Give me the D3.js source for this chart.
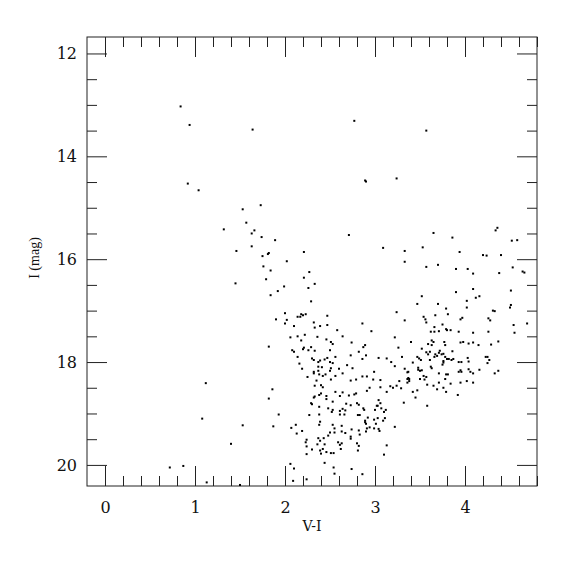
<!DOCTYPE html>
<html>
<head>
<meta charset="utf-8">
<script src="https://cdn.jsdelivr.net/npm/d3@7"></script>
<style>
  body { margin: 0; background: #fff; }
  svg { display: block; }
  text { font-family: "DejaVu Serif", "Liberation Serif", serif; fill: #111; }
</style>
</head>
<body>
<div id="chart"></div>
<script>
// colour index V-I and magnitude I
const vi = [
  0.84,0.94,1.64,2.77,3.57,
  0.92,1.04,1.73,1.53,1.57,1.32,1.66,1.63,1.74,1.89,1.63,1.46,1.82,1.81,1.75,2.21,2.02,1.76,1.84,2.27,2.21,1.79,1.45,1.99,2.26,1.92,1.84,
  2.89,2.90,3.24,2.71,3.09,3.33,3.33,3.65,3.86,3.53,3.94,4.34,4.36,4.52,4.58,4.20,4.24,4.40,3.57,3.70,3.90,4.03,4.09,4.38,4.53,4.64,4.66,
  2.33,2.29,3.52,3.47,3.70,3.79,3.90,4.02,4.02,4.09,4.12,4.16,4.51,4.51,4.50,
  2.00,1.90,2.02,2.00,2.18,2.20,2.23,2.14,2.17,2.10,2.06,2.14,2.22,2.18,1.82,2.21,2.20,2.26,2.08,2.10,2.14,2.16,2.19,2.25,
  1.12,1.86,1.82,1.93,2.27,1.08,1.53,1.87,2.07,2.12,2.19,2.13,2.24,2.23,2.24,1.40,2.24,2.06,2.10,0.72,0.87,1.13,1.50,2.09,2.24,
  2.47,2.32,2.33,2.39,2.47,3.24,3.33,2.86,2.96,2.58,2.36,2.64,2.46,2.51,2.53,2.74,3.22,3.26,2.29,2.89,2.87,2.50,2.82,2.33,
  2.32,2.30,2.39,2.37,2.44,2.47,2.56,2.73,2.86,2.90,3.04,3.13,3.18,3.22,2.50,2.53,2.37,2.41,2.51,2.50,2.60,2.69,2.75,
  2.32,2.32,2.37,2.38,2.42,2.45,2.64,2.56,2.35,2.51,2.73,2.79,2.86,2.91,2.99,2.98,3.06,3.06,2.94,2.91,3.13,3.17,3.20,3.24,3.27,
  3.33,3.36,3.37,3.29,2.33,2.40,2.42,2.56,2.64,2.71,2.77,2.61,2.46,2.40,2.38,2.32,2.33,
  2.79,2.29,2.30,2.46,2.53,2.68,2.80,2.82,2.87,2.88,3.04,3.06,3.03,3.02,3.07,3.12,3.10,3.00,3.32,2.38,2.48,2.53,2.52,2.61,2.64,
  2.66,2.61,2.73,2.67,2.81,2.83,2.92,2.89,2.89,2.90,2.99,3.01,3.03,3.09,3.11,2.91,2.94,2.99,3.04,3.05,3.22,2.82,2.74,2.67,2.63,
  2.63,2.53,2.55,2.55,2.39,2.38,2.38,2.30,2.37,2.39,2.43,2.36,2.39,2.42,2.40,2.46,2.51,2.54,2.44,2.50,2.48,2.59,2.61,2.62,2.63,
  2.73,2.73,2.80,2.82,2.81,2.83,2.90,3.13,3.10,2.44,2.54,2.55,2.74,2.86,
  4.31,4.33,3.54,3.56,3.57,3.67,3.81,3.75,3.66,3.95,3.97,4.26,4.28,4.54,4.55,4.69,3.62,3.66,3.71,3.79,3.80,3.84,3.93,4.09,4.26,
  3.40,3.63,3.65,3.59,3.63,3.77,3.78,3.95,3.98,4.04,4.09,4.15,4.29,4.37,3.52,3.72,3.71,3.67,3.69,3.74,3.76,3.78,3.80,3.76,3.82,
  3.85,3.87,3.86,3.57,3.61,3.59,3.47,3.49,3.51,3.42,3.30,3.61,3.66,3.93,3.96,4.03,4.04,4.23,4.25,4.27,4.25,3.36,3.37,3.48,3.50,
  3.48,3.52,3.62,3.63,3.75,3.76,3.71,3.79,3.81,3.95,3.96,3.93,4.04,4.06,4.09,4.16,4.33,4.37,3.38,3.38,3.36,3.50,3.55,3.54,3.57,
  3.42,3.47,3.45,3.65,3.71,3.76,3.79,3.84,3.92,3.95,4.02,4.09,3.78,3.58,3.69,3.58
];
const imag = [
  13.03,13.39,13.48,13.31,13.50,
  14.53,14.66,14.95,15.03,15.29,15.42,15.44,15.50,15.57,15.63,15.75,15.84,15.88,15.90,15.94,15.86,16.04,16.14,16.22,16.25,16.36,16.39,16.47,16.53,16.56,16.62,16.70,
  14.47,14.49,14.43,15.53,15.78,15.84,16.05,15.49,15.58,15.77,15.86,15.44,15.39,15.64,15.63,15.92,15.93,15.92,16.15,16.11,16.19,16.19,16.28,16.27,16.16,16.24,16.26,
  16.48,16.82,16.72,16.87,16.87,16.96,16.64,16.81,16.94,16.58,16.75,16.72,16.61,16.89,16.94,
  17.05,17.17,17.18,17.25,17.07,17.09,17.07,17.12,17.12,17.30,17.52,17.50,17.47,17.58,17.70,17.72,17.75,17.77,17.77,17.80,17.90,18.03,18.13,18.29,
  18.41,18.53,18.71,19.02,19.03,19.10,19.23,19.25,19.28,19.22,19.34,19.39,19.51,19.56,19.64,19.59,19.79,19.98,20.07,20.05,20.02,20.34,20.39,20.31,20.28,
  17.10,17.23,17.33,17.30,17.28,17.03,17.19,17.25,17.40,17.38,17.51,17.50,17.56,17.61,17.65,17.62,17.52,17.72,17.71,17.67,17.71,17.77,17.80,17.78,
  17.96,17.93,17.97,18.00,17.95,17.92,17.90,17.87,17.94,17.87,17.92,17.93,18.00,18.08,18.00,18.02,18.09,18.10,18.12,18.17,18.13,18.06,18.12,
  18.19,18.22,18.17,18.24,18.27,18.24,18.22,18.27,18.36,18.34,18.36,18.34,18.28,18.28,18.19,18.34,18.35,18.49,18.50,18.56,18.58,18.47,18.50,18.46,18.37,
  18.13,18.33,18.31,18.51,18.46,18.45,18.49,18.58,18.59,18.65,18.63,18.66,18.66,18.61,18.64,18.69,18.67,
  18.61,18.80,18.82,18.72,18.77,18.81,18.80,18.83,18.90,18.93,18.74,18.80,18.85,18.85,18.90,18.93,18.97,18.93,18.79,18.87,18.90,18.93,18.97,18.95,18.91,
  19.02,19.02,18.84,18.94,19.03,19.03,19.08,19.14,19.17,19.20,19.12,19.20,19.09,19.14,19.09,19.29,19.27,19.29,19.30,19.34,19.26,19.33,19.31,19.38,19.35,
  19.24,19.22,19.29,19.37,19.16,19.22,19.02,19.70,19.48,19.53,19.48,19.60,19.72,19.69,19.78,19.75,19.77,19.77,19.60,19.37,19.43,19.56,19.61,19.69,19.58,
  19.45,19.49,19.58,19.63,19.72,19.41,19.35,19.62,19.80,19.96,20.05,20.17,20.08,20.18,
  17.00,17.01,17.12,17.17,17.23,17.09,17.07,17.27,17.32,17.17,17.14,17.15,17.19,17.28,17.43,17.25,17.41,17.41,17.40,17.36,17.38,17.38,17.41,17.43,17.41,
  17.61,17.58,17.61,17.65,17.67,17.61,17.67,17.62,17.61,17.64,17.62,17.67,17.66,17.60,17.74,17.78,17.82,17.85,17.88,17.85,17.84,17.90,17.94,17.98,17.94,
  17.96,17.94,17.79,17.81,17.80,17.85,17.90,17.93,17.96,18.01,17.90,17.96,17.90,18.00,18.00,17.92,17.99,17.90,17.90,17.96,18.02,18.20,18.19,18.15,18.17,
  18.11,18.16,18.09,18.12,18.05,18.01,18.22,18.24,18.24,18.16,18.19,18.19,18.14,18.19,18.22,18.15,18.22,18.17,18.33,18.37,18.40,18.33,18.34,18.27,18.29,
  18.58,18.55,18.69,18.46,18.40,18.50,18.58,18.42,18.64,18.40,18.37,18.40,18.33,18.44,18.53,18.85
];

const xMajor = [0, 1, 2, 3, 4];
const yMajor = [12, 14, 16, 18, 20];

const stars = vi.map((v, i) => ({v: v, m: imag[i]}));

const W = 575, H = 575;
const m = {left: 87, right: 537, top: 37, bottom: 486};

const svg = d3.select('#chart').append('svg')
  .attr('width', W)
  .attr('height', H);

const x = d3.scaleLinear().domain([-0.2, 4.8]).range([m.left, m.right]);
// magnitudes: bright at the top
const y = d3.scaleLinear().domain([11.68, 20.41]).range([m.top, m.bottom]);

const xMinor = d3.range(0, 4.81, 0.2).map(d => +d.toFixed(1)).filter(d => !xMajor.includes(d));
const yMinor = d3.range(12, 20.41, 0.5).filter(d => !yMajor.includes(d));

function styleAxis(g) {
  g.select('.domain').remove();
  g.selectAll('.tick line').attr('stroke', '#222');
  g.selectAll('.tick text').style('font-size', '16px');
}

// bottom
svg.append('g').attr('transform', `translate(0,${m.bottom})`)
  .call(d3.axisBottom(x).tickValues(xMajor).tickSize(-20).tickPadding(16).tickFormat(d3.format('d')))
  .call(styleAxis);
svg.append('g').attr('transform', `translate(0,${m.bottom})`)
  .call(d3.axisBottom(x).tickValues(xMinor).tickSize(-10).tickFormat(''))
  .call(styleAxis);
// top
svg.append('g').attr('transform', `translate(0,${m.top})`)
  .call(d3.axisTop(x).tickValues(xMajor).tickSize(-20).tickFormat(''))
  .call(styleAxis);
svg.append('g').attr('transform', `translate(0,${m.top})`)
  .call(d3.axisTop(x).tickValues(xMinor).tickSize(-10).tickFormat(''))
  .call(styleAxis);
// left
svg.append('g').attr('transform', `translate(${m.left},0)`)
  .call(d3.axisLeft(y).tickValues(yMajor).tickSize(-20).tickPadding(10).tickFormat(d3.format('d')))
  .call(styleAxis);
svg.append('g').attr('transform', `translate(${m.left},0)`)
  .call(d3.axisLeft(y).tickValues(yMinor).tickSize(-10).tickFormat(''))
  .call(styleAxis);
// right
svg.append('g').attr('transform', `translate(${m.right},0)`)
  .call(d3.axisRight(y).tickValues(yMajor).tickSize(-20).tickFormat(''))
  .call(styleAxis);
svg.append('g').attr('transform', `translate(${m.right},0)`)
  .call(d3.axisRight(y).tickValues(yMinor).tickSize(-10).tickFormat(''))
  .call(styleAxis);

// frame
svg.append('rect')
  .attr('x', m.left).attr('y', m.top)
  .attr('width', m.right - m.left).attr('height', m.bottom - m.top)
  .attr('fill', 'none')
  .attr('stroke', '#222');

// stars
svg.append('g')
  .selectAll('rect')
  .data(stars)
  .join('rect')
  .attr('x', d => x(d.v) - 1)
  .attr('y', d => y(d.m) - 1)
  .attr('width', 2)
  .attr('height', 2)
  .attr('fill', '#000');

// axis titles
svg.append('text')
  .attr('x', (m.left + m.right) / 2)
  .attr('y', 531)
  .attr('text-anchor', 'middle')
  .style('font-size', '14px')
  .text('V-I');

svg.append('text')
  .attr('transform', `translate(39,258) rotate(-90)`)
  .attr('text-anchor', 'middle')
  .style('font-family', '"Liberation Serif", serif')
  .style('font-size', '14px')
  .text('I (mag)');
</script>
</body>
</html>
